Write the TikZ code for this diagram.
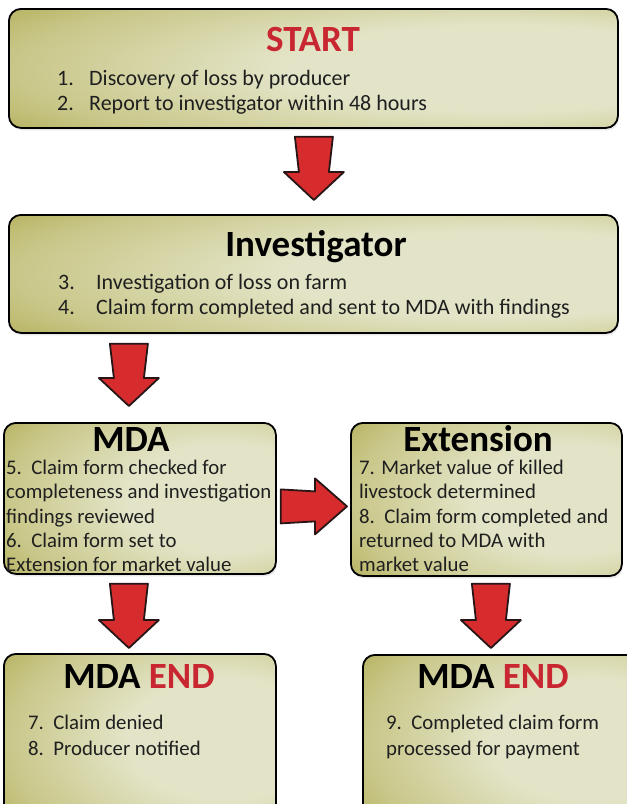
\documentclass[tikz,border=0pt]{standalone}
\usepackage{fontspec}
\setmainfont{Carlito}
\usetikzlibrary{calc,shadows}
\definecolor{olD}{RGB}{160,154,50}
\definecolor{olM}{RGB}{200,198,135}
\definecolor{olL}{RGB}{227,228,199}
\definecolor{titlered}{RGB}{200,38,48}
\definecolor{arrowred}{RGB}{214,44,46}
\definecolor{arrowline}{RGB}{40,22,22}
\pgfdeclareradialshading{boxshade}{\pgfpoint{20bp}{0bp}}{color(0bp)=(olL); color(18bp)=(olL); color(36bp)=(olM); color(52bp)=(olD); color(80bp)=(olD)}
\newcommand\downblock[2]{%
  \draw[blockarrow] let \p1=(#1), \p2=(#2) in
    (\x1-19pt,\y1) -- (\x1+19pt,\y1) -- (\x1+15pt,\y2+28pt) -- (\x1+30pt,\y2+28pt)
    -- (\x1,\y2) -- (\x1-30pt,\y2+28pt) -- (\x1-15pt,\y2+28pt) -- cycle;}
\newcommand\rightblock[2]{%
  \draw[blockarrow] let \p1=(#1), \p2=(#2) in
    (\x1,\y1+17pt) -- (\x2-32pt,\y1+15pt) -- (\x2-32pt,\y1+28pt) -- (\x2,\y1)
    -- (\x2-32pt,\y1-28pt) -- (\x2-32pt,\y1-15pt) -- (\x1,\y1-17pt) -- cycle;}
\begin{document}
\begin{tikzpicture}[x=1pt,y=-1pt,
  box/.style={draw=black, line width=1.8pt, rounded corners=12pt, shade, shading=boxshade, anchor=north west, inner sep=0pt,
    drop shadow={opacity=0.18, shadow xshift=1pt, shadow yshift=-2.5pt}},
  ttl/.style={anchor=base, inner sep=0pt, font=\bfseries\fontsize{37}{42}\selectfont},
  itm/.style={anchor=base west, inner sep=0pt, font=\fontsize{22}{26}\selectfont, text=black!88},
  sitm/.style={itm, font=\fontsize{20.8}{25}\selectfont},
  blockarrow/.style={fill=arrowred, draw=arrowline, line width=1.8pt, line join=round}]
\useasboundingbox (0,0) rectangle (627,804);

% boxes
\node[box, minimum width=609pt, minimum height=119pt] (start) at (8,8) {};
\node[box, minimum width=609pt, minimum height=118pt] (inv) at (8,214) {};
\node[box, minimum width=272pt, minimum height=151pt] (mda) at (3,422) {};
\node[box, minimum width=271pt, minimum height=153pt] (ext) at (350,422) {};
\node[box, minimum width=272pt, minimum height=170pt] (endL) at (3,653) {};
\node[box, minimum width=280pt, minimum height=170pt] (endR) at (362,654) {};

% START
\node[ttl, text=titlered] (startT) at (313,51) {START};
\node[itm] (s1n) at (57,85) {1.};
\node[itm] (s1) at (89,85) {Discovery of loss by producer};
\node[itm] (s2n) at (57,110) {2.};
\node[itm] (s2) at (89,110) {Report to investigator within 48 hours};

% Investigator
\node[ttl] (invT) at (316,256) {Investigator};
\node[itm] (i3n) at (58,289) {3.};
\node[itm] (i3) at (96,289) {Investigation of loss on farm};
\node[itm] (i4n) at (58,314) {4.};
\node[itm] (i4) at (96,314) {Claim form completed and sent to MDA with findings};

% MDA
\node[ttl] (mdaT) at (131,451) {MDA};
\node[sitm] (m1) at (6,474.5) {5.\ \ Claim form checked for};
\node[sitm] (m2) at (6,498.8) {completeness and investigation};
\node[sitm] (m3) at (6,523.1) {findings reviewed};
\node[sitm] (m4) at (6,547.4) {6.\ \ Claim form set to};
\node[sitm] (m5) at (6,571.7) {Extension for market value};

% Extension
\node[ttl] (extT) at (478,451) {Extension};
\node[sitm] (e1) at (359,474.5) {7. Market value of killed};
\node[sitm] (e2) at (359,498.8) {livestock determined};
\node[sitm] (e3) at (359,523.1) {8.\ \ Claim form completed and};
\node[sitm] (e4) at (359,547.4) {returned to MDA with};
\node[sitm] (e5) at (359,571.7) {market value};

% END boxes
\node[ttl] (endLT) at (139,688) {MDA \textcolor{titlered}{END}};
\node[sitm] (l1) at (28,729) {7.\ \ Claim denied};
\node[sitm] (l2) at (28,755) {8.\ \ Producer notified};
\node[ttl] (endRT) at (493,688) {MDA \textcolor{titlered}{END}};
\node[sitm] (r1) at (386,729) {9.\ \ Completed claim form};
\node[sitm] (r2) at (386,755) {processed for payment};

% arrows
\coordinate (a1s) at ($(start.south)+(0.5,8)$);
\coordinate (a1e) at ($(inv.north)+(0.5,-14)$);
\downblock{a1s}{a1e}
\coordinate (a2s) at ($(inv.south -| mda.north)+(-11,10)$);
\coordinate (a2e) at ($(mda.north)+(-11,-16)$);
\downblock{a2s}{a2e}
\coordinate (a3s) at ($(mda.south)+(-11,9)$);
\coordinate (a3e) at ($(endL.north)+(-11,-5)$);
\downblock{a3s}{a3e}
\coordinate (a4s) at ($(ext.south)+(4.5,7)$);
\coordinate (a4e) at ($(endR.north -| ext.south)+(4.5,-6)$);
\downblock{a4s}{a4e}
\coordinate (a5s) at ($(mda.east)+(4,8)$);
\coordinate (a5e) at ($(ext.west)+(-3,8)$);
\rightblock{a5s}{a5e}
\end{tikzpicture}
\end{document}
